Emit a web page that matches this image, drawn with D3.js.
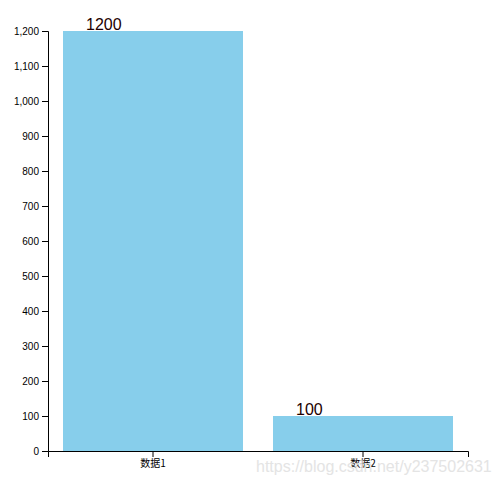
<!DOCTYPE html>
<html>
<head>
<meta charset="utf-8">
<script src="https://d3js.org/d3.v7.min.js"></script>
<style>
body { margin: 0; }
svg { font-family: "Noto Sans CJK SC", sans-serif; }
</style>
</head>
<body>
<div id="chart"></div>
<script>
var categories = ["数据1", "数据2"];
var values = [1200, 100];
var yTicks = [0, 100, 200, 300, 400, 500, 600, 700, 800, 900, 1000, 1100, 1200];

var width = 497;
var height = 483;
var padding = {top: 31, right: 29, bottom: 32, left: 48};
var rectPadding = 30;

var svg = d3.select("#chart")
      .append("svg")
      .attr("width", width)
      .attr("height", height);

var xScale = d3.scaleBand()
      .domain(d3.range(categories.length))
      .range([0, width - padding.left - padding.right]);

var yScale = d3.scaleLinear()
      .domain([0, d3.max(values)])
      .range([height - padding.top - padding.bottom, 0]);

var g = svg.append("g")
      .attr("transform", "translate(" + padding.left + "," + padding.top + ")");

// bars
g.selectAll(".bar")
  .data(values)
  .enter()
  .append("rect")
  .attr("class", "bar")
  .attr("x", function(d, i) { return xScale(i) + rectPadding / 2; })
  .attr("y", function(d) { return yScale(d); })
  .attr("width", xScale.bandwidth() - rectPadding)
  .attr("height", function(d) { return yScale(0) - yScale(d); })
  .attr("fill", "skyblue");

// value labels
g.selectAll(".label")
  .data(values)
  .enter()
  .append("text")
  .attr("class", "label")
  .attr("x", function(d, i) { return xScale(i) + rectPadding / 2 + 23; })
  .attr("y", function(d) { return yScale(d); })
  .attr("dy", "-0.05em")
  .style("font-family", "sans-serif")
  .style("font-size", "16px")
  .attr("fill", "#200")
  .text(function(d) { return d; });

// axes
var xAxis = d3.axisBottom(xScale).tickFormat(function(i) { return categories[i]; });
var yAxis = d3.axisLeft(yScale).tickValues(yTicks).tickFormat(d3.format(","));

g.append("g")
  .attr("transform", "translate(0," + yScale(0) + ")")
  .call(xAxis)
  .selectAll("text")
  .style("font-family", "'Noto Sans CJK SC', sans-serif");

g.append("g")
  .call(yAxis)
  .selectAll("text")
  .style("font-family", "sans-serif");

// watermark
svg.append("text")
  .attr("x", 256)
  .attr("y", 472)
  .style("font-family", "sans-serif")
  .style("font-size", "16px")
  .attr("fill", "#e4e4e4")
  .text("https://blog.csdn.net/y237502631");
</script>
</body>
</html>
